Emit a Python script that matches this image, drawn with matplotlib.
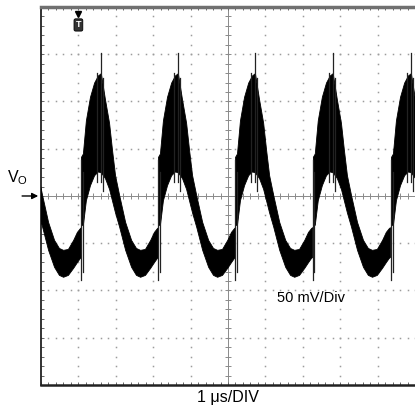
import numpy as np
import matplotlib.pyplot as plt
from matplotlib.ticker import MultipleLocator

plt.rcParams['font.family'] = ['Liberation Sans', 'DejaVu Sans']

# switching edges of the ripple (x in divisions, 1 us/div)
edge_x = [-0.99, 1.07, 3.13, 5.19, 7.27, 9.36]

# one ripple period, offset from its switching edge
# (x offset in div, upper and lower edge of the noisy band in div, 50 mV/div)
tpl_dx = [0.00, 0.05, 0.13, 0.24, 0.35, 0.45, 0.53, 0.64, 0.75, 0.83, 0.91,
          1.02, 1.18, 1.34, 1.47, 1.58, 1.71, 1.85, 1.95, 2.03, 2.06]
tpl_hi = [0.83, 0.90, 1.60, 2.10, 2.40, 2.55, 2.60, 2.05, 1.55, 0.97, 0.44,
          0.02, -0.55, -0.93, -1.10, -1.14, -1.12, -0.93, -0.76, -0.68, -0.66]
tpl_lo = [-0.61, -0.61, -0.09, 0.23, 0.44, 0.52, 0.50, 0.38, 0.15, -0.10, -0.35,
          -0.65, -1.14, -1.50, -1.67, -1.71, -1.67, -1.52, -1.40, -1.31, -1.29]

# narrow spikes in each period (x offset, top, bottom)
spike_dx = [0.00, 0.04, 0.42, 0.53, 0.58]
spike_top = [0.76, 0.50, 2.60, 3.03, 2.50]
spike_bot = [-1.78, -1.60, 0.30, 0.30, 0.10]

fig = plt.figure(figsize=(4.15, 4.09), dpi=100)
ax = fig.add_axes([0.0988, 0.0587, 0.9012, 0.9242])
ax.set_xlim(0, 10)
ax.set_ylim(-4, 4)

# graticule: dotted major lines, solid centre cross with minor ticks
minor_x = np.arange(0, 10.01, 0.2)
minor_y = np.arange(-4, 4.01, 0.2)
for gx in range(1, 10):
    if gx == 5:
        continue
    ax.plot([gx] * len(minor_y), minor_y, ls='none', marker='s', ms=1.1,
            mew=0, color='#9c9c9c', zorder=1)
for gy in range(-3, 4):
    if gy == 0:
        continue
    ax.plot(minor_x, [gy] * len(minor_x), ls='none', marker='s', ms=1.1,
            mew=0, color='#9c9c9c', zorder=1)
ax.axhline(0, color='#8a8a8a', lw=0.7, zorder=1)
ax.axvline(5, color='#8a8a8a', lw=0.7, zorder=1)
ax.plot(minor_x, [0] * len(minor_x), ls='none', marker='|', ms=4.5,
        mew=0.7, color='#8a8a8a', zorder=1)
ax.plot([5] * len(minor_y), minor_y, ls='none', marker='_', ms=4.5,
        mew=0.7, color='#8a8a8a', zorder=1)

# ripple trace
for e in edge_x:
    xs = [e + d for d in tpl_dx]
    ax.fill_between(xs, tpl_lo, tpl_hi, color='black', lw=0.6, zorder=3)
    for d, t, b in zip(spike_dx, spike_top, spike_bot):
        ax.plot([e + d, e + d], [b, t], color='#222222', lw=0.9, zorder=3)

ax.xaxis.set_major_locator(MultipleLocator(1))
ax.xaxis.set_minor_locator(MultipleLocator(0.2))
ax.yaxis.set_major_locator(MultipleLocator(1))
ax.yaxis.set_minor_locator(MultipleLocator(0.2))
ax.tick_params(which='both', direction='in', length=2.5, width=0.7, color='#666666',
               top=True, labelbottom=False, labelleft=False)

ax.spines['right'].set_visible(False)
ax.spines['top'].set_color('#707070')
ax.spines['top'].set_linewidth(2.5)
ax.spines['left'].set_color('#222222')
ax.spines['left'].set_linewidth(1.3)
ax.spines['bottom'].set_color('#222222')
ax.spines['bottom'].set_linewidth(1.8)

# trigger marker
ax.plot([1.0], [3.86], marker='v', ms=5, color='black', clip_on=False, zorder=5)
ax.text(1.0, 3.62, 'T', ha='center', va='center', fontsize=6.5, fontweight='bold',
        color='white', zorder=5,
        bbox=dict(boxstyle='round,pad=0.18', fc='#333333', ec='black', lw=0.6))

# labels
fig.text(0.018, 0.565, r'$\mathregular{V_O}$', fontsize=11.5, ha='left', va='center')
ax.annotate('', xy=(0, 0), xytext=(-0.58, 0),
            arrowprops=dict(arrowstyle='-|>', color='black', lw=1.0,
                            mutation_scale=9), annotation_clip=False)
ax.text(7.22, -2.15, '50 mV/Div', ha='center', va='center', fontsize=10.5)
ax.text(5, -4.27, '1 \u03bcs/DIV', ha='center', va='center', fontsize=11.5)

fig.savefig('out.png', dpi=100)
